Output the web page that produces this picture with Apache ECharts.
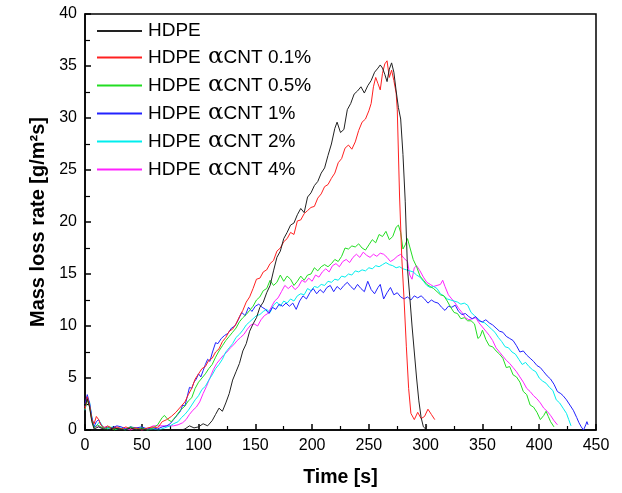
<!DOCTYPE html>
<html>
<head>
<meta charset="utf-8">
<script src="https://cdn.jsdelivr.net/npm/echarts@6/dist/echarts.min.js"></script>
<style>
html,body{margin:0;padding:0;background:#fff;}
#chart{width:622px;height:493px;}
</style>
</head>
<body>
<div id="chart"></div>
<script>
// Series names (legend)
const seriesNames = ['HDPE', 'HDPE \u03b1CNT 0.1%', 'HDPE \u03b1CNT 0.5%', 'HDPE \u03b1CNT 1%', 'HDPE \u03b1CNT 2%', 'HDPE \u03b1CNT 4%'];

// [time s, mass loss rate g/m2s]
const hdpe = [[0,2.3],[2,3.0],[4,2.2],[6,0.8],[8,0.1],[12,0.3],[16,0.1],[20,0.0],[25,0.2],[30,0.1],[35,0.0],[40,0.2],[45,0.0],[50,0.1],[55,0.0],[60,0.0],[65,0.0],[70,0.0],[75,0.0],[80,0.0],[85,0.0],[88,0.1],[92,0.4],[96,0.2],[100,0.3],[104,0.6],[108,0.4],[112,0.9],[115,1.5],[118,2.1],[121,1.8],[124,2.6],[127,3.5],[130,4.8],[133,5.6],[136,6.4],[139,7.6],[142,8.3],[145,9.5],[148,10.2],[151,10.8],[154,11.8],[157,12.3],[160,13.2],[163,13.9],[166,15.3],[169,16.6],[172,17.2],[175,18.4],[178,19.0],[181,19.7],[184,19.9],[187,20.7],[190,21.3],[193,20.9],[196,22.4],[199,22.8],[202,23.5],[205,23.9],[208,24.7],[211,25.2],[214,26.4],[217,27.5],[220,29.0],[222,29.6],[225,28.6],[228,28.9],[231,30.8],[234,31.4],[237,32.3],[240,32.6],[243,33.0],[246,32.4],[249,33.1],[252,33.6],[255,34.4],[258,34.8],[260,35.1],[262,34.8],[264,34.2],[266,33.5],[268,34.7],[270,35.3],[272,34.4],[274,32.6],[276,31.0],[278,29.9],[280,26.5],[282,22.0],[284,15.5],[286,12.8],[288,10.0],[290,7.5],[292,5.0],[294,2.8],[296,1.2],[298,0.3],[300,0.1],[301,0.4]];

const cnt01 = [[0,2.0],[2,3.2],[4,2.4],[6,1.0],[8,0.6],[10,1.3],[12,1.0],[14,0.5],[17,0.2],[20,0.4],[24,0.1],[28,0.3],[32,0.1],[36,0.3],[40,0.1],[45,0.2],[50,0.0],[55,0.2],[60,0.3],[64,0.2],[68,0.8],[72,1.0],[76,1.3],[80,1.7],[84,2.2],[88,2.7],[91,3.4],[94,4.0],[97,4.9],[100,5.4],[103,5.9],[106,6.1],[109,6.7],[112,6.9],[115,7.5],[118,7.8],[121,8.5],[124,8.9],[127,9.5],[130,9.7],[133,10.2],[136,10.9],[139,11.5],[142,12.3],[145,12.8],[148,13.6],[151,14.5],[154,14.6],[157,15.2],[160,15.4],[163,16.0],[166,16.3],[169,17.2],[172,17.5],[175,18.1],[178,18.4],[181,19.0],[184,18.8],[187,20.1],[190,20.2],[193,20.8],[196,21.1],[199,21.4],[202,21.5],[205,22.3],[208,22.7],[211,23.4],[214,23.6],[217,24.2],[220,24.7],[223,25.7],[226,26.1],[229,27.1],[232,27.4],[235,27.0],[238,27.7],[241,28.8],[244,29.6],[247,29.9],[250,30.7],[252,31.4],[254,33.0],[256,33.9],[258,33.3],[260,32.7],[262,34.3],[264,35.2],[266,35.5],[268,33.9],[270,34.6],[272,33.6],[274,32.4],[275,30.8],[277,22.5],[279,16.5],[281,12.5],[283,8.0],[285,4.0],[287,1.6],[290,1.0],[293,1.7],[296,1.1],[299,1.3],[302,2.0],[305,1.5],[308,1.0]];

const cnt05 = [[0,2.0],[2,2.9],[4,2.3],[6,0.9],[8,0.2],[11,0.5],[14,0.3],[18,0.1],[22,0.3],[26,0.0],[30,0.2],[35,0.0],[40,0.3],[45,0.1],[50,0.2],[55,0.0],[60,0.2],[64,0.5],[68,1.2],[70,1.4],[73,1.0],[76,0.8],[80,1.3],[84,1.9],[88,2.3],[91,2.8],[94,3.1],[97,4.0],[100,4.6],[103,5.0],[106,5.4],[109,5.9],[112,6.3],[115,7.0],[118,7.6],[121,8.1],[124,8.6],[127,9.0],[130,9.4],[133,9.8],[136,10.4],[139,10.8],[142,11.1],[145,11.5],[148,11.9],[151,12.5],[154,12.8],[157,13.4],[160,13.6],[163,14.4],[166,13.9],[169,14.2],[172,14.9],[175,14.3],[178,14.8],[181,14.5],[184,13.9],[187,14.3],[190,14.8],[193,14.4],[196,14.9],[199,15.0],[202,15.6],[205,15.3],[208,15.7],[211,15.9],[214,15.7],[217,16.0],[220,16.4],[223,16.2],[226,16.7],[229,17.5],[232,17.4],[235,17.7],[238,17.6],[241,17.9],[244,17.5],[247,17.3],[250,17.8],[253,18.3],[256,18.0],[259,18.8],[262,18.6],[265,19.1],[268,18.3],[271,18.6],[274,19.5],[276,19.7],[278,19.0],[280,17.4],[282,17.8],[284,18.4],[286,17.6],[289,16.4],[292,15.7],[295,14.8],[298,14.4],[301,14.0],[304,13.8],[307,13.6],[310,13.3],[313,13.0],[316,12.9],[319,12.4],[322,11.8],[325,11.3],[328,11.2],[331,10.7],[334,10.8],[337,10.5],[340,10.5],[343,10.2],[346,8.8],[348,9.0],[350,9.6],[353,8.7],[356,8.1],[359,8.0],[362,7.6],[365,7.3],[368,6.9],[371,6.0],[374,6.1],[377,5.3],[380,5.1],[383,4.6],[386,3.7],[389,3.4],[392,2.4],[395,2.2],[398,1.7],[401,1.0],[404,1.4],[406,1.8],[408,1.3],[410,0.8],[413,0.3]];

const cnt1 = [[0,2.5],[2,3.4],[4,2.6],[6,1.2],[8,0.3],[10,0.8],[12,1.0],[14,0.5],[17,0.1],[20,0.3],[24,0.2],[28,0.4],[32,0.3],[36,0.1],[40,0.3],[45,0.2],[50,0.3],[55,0.1],[60,0.2],[64,0.1],[68,0.3],[72,0.4],[75,0.6],[78,1.0],[81,1.4],[84,1.8],[86,2.4],[88,2.3],[90,3.2],[92,4.1],[94,4.0],[96,4.6],[98,4.9],[100,5.4],[102,5.1],[104,5.7],[106,6.3],[108,6.8],[110,6.6],[112,7.4],[115,8.4],[117,8.3],[120,8.8],[123,9.1],[126,9.3],[129,9.8],[132,10.0],[135,10.6],[138,11.3],[141,11.0],[144,11.8],[147,11.4],[150,11.9],[153,12.1],[156,11.8],[159,11.6],[162,11.2],[165,11.8],[168,11.6],[171,12.1],[174,11.9],[177,12.2],[180,11.9],[183,12.2],[186,11.6],[189,12.4],[192,12.9],[195,12.6],[198,13.2],[201,13.6],[204,13.1],[207,13.5],[210,13.2],[213,13.7],[216,13.9],[219,13.3],[222,13.8],[225,13.5],[228,13.9],[231,14.2],[234,13.8],[237,13.5],[240,14.0],[243,13.6],[246,13.3],[249,14.3],[252,13.5],[255,13.1],[258,13.7],[260,14.0],[263,12.6],[266,13.2],[269,13.7],[272,13.0],[275,13.2],[278,12.8],[281,12.6],[284,12.8],[287,12.5],[290,12.9],[293,12.7],[296,12.9],[299,12.6],[302,12.2],[305,12.5],[308,12.3],[311,12.2],[314,11.8],[317,11.5],[320,11.9],[323,11.8],[326,12.0],[329,11.4],[332,11.1],[335,11.2],[338,10.9],[341,10.7],[344,10.9],[347,10.5],[350,10.4],[353,10.6],[356,10.3],[359,10.1],[362,9.8],[365,9.5],[368,9.4],[371,9.0],[374,8.8],[377,8.6],[380,8.1],[383,7.5],[386,7.6],[389,7.2],[392,6.9],[395,6.6],[398,6.2],[401,6.0],[404,5.6],[407,5.2],[410,4.9],[413,4.4],[416,3.7],[419,3.5],[421,3.3],[424,2.9],[427,2.4],[430,1.9],[433,1.2],[435,0.7],[437,0.3],[439,0.0],[441,0.5],[442,0.8],[443,0.5]];

const cnt2 = [[0,1.9],[2,3.0],[4,2.7],[6,1.3],[8,0.3],[10,0.4],[13,0.8],[16,0.3],[20,0.1],[24,0.3],[28,0.1],[32,0.2],[36,0.0],[40,0.3],[45,0.1],[50,0.2],[55,0.0],[60,0.1],[65,0.0],[70,0.2],[75,0.4],[78,0.6],[82,0.8],[85,1.2],[88,1.5],[91,1.9],[94,2.4],[97,2.9],[100,3.3],[103,3.9],[106,4.2],[109,4.8],[112,5.3],[115,5.9],[118,6.3],[121,6.8],[124,7.5],[127,7.9],[130,8.3],[133,8.9],[136,9.2],[139,9.6],[142,10.1],[145,10.4],[148,10.7],[151,11.0],[154,11.1],[157,11.4],[160,11.6],[163,11.3],[166,12.0],[169,12.3],[172,11.9],[175,12.4],[178,12.2],[181,12.6],[184,12.4],[187,12.9],[190,13.1],[193,13.0],[196,13.6],[199,13.4],[202,13.8],[205,13.7],[208,14.0],[211,13.9],[214,14.3],[217,14.2],[220,14.5],[223,14.4],[226,14.8],[229,14.7],[232,15.0],[235,14.9],[238,15.3],[241,15.2],[244,15.4],[247,15.3],[250,15.6],[253,15.5],[256,15.8],[259,15.7],[262,15.9],[265,16.1],[268,15.9],[271,15.8],[274,15.6],[277,15.7],[280,15.5],[283,15.4],[286,15.3],[289,15.2],[292,14.9],[295,14.7],[298,14.3],[301,13.9],[304,13.7],[307,13.8],[310,13.6],[313,13.1],[316,12.9],[319,12.6],[322,12.5],[325,12.4],[328,12.3],[331,12.1],[334,12.2],[337,12.0],[340,11.3],[343,11.0],[346,10.7],[349,10.4],[352,10.3],[355,10.0],[358,9.7],[361,9.4],[364,8.9],[367,8.5],[370,8.0],[373,7.9],[376,7.5],[379,7.3],[382,6.8],[385,6.3],[388,6.5],[391,6.1],[394,5.8],[397,5.6],[400,5.0],[403,4.7],[406,4.5],[409,4.1],[412,3.8],[415,2.9],[418,2.6],[421,2.1],[424,1.6],[426,1.0],[428,0.4]];

const cnt4 = [[0,2.2],[2,3.1],[4,2.5],[6,1.1],[8,0.2],[11,0.4],[14,0.2],[18,0.3],[22,0.1],[26,0.3],[30,0.1],[35,0.2],[40,0.0],[45,0.2],[50,0.0],[55,0.1],[60,0.4],[65,0.4],[70,0.4],[75,0.4],[78,0.4],[82,0.5],[86,0.7],[89,1.0],[92,1.5],[95,1.9],[98,2.2],[101,2.7],[104,3.5],[107,4.2],[110,5.0],[113,5.8],[116,6.4],[119,6.8],[122,7.2],[125,7.5],[128,7.9],[131,8.2],[134,8.6],[137,8.9],[140,9.2],[143,9.7],[146,10.1],[149,10.2],[152,10.0],[155,10.6],[158,11.0],[161,11.2],[164,11.8],[167,12.4],[170,12.7],[173,13.3],[176,13.9],[179,13.6],[182,13.9],[185,13.5],[188,13.8],[191,14.4],[194,14.2],[197,14.6],[200,14.3],[203,14.9],[206,14.7],[209,15.2],[212,15.5],[215,15.2],[218,15.8],[221,16.0],[224,15.7],[227,16.2],[230,16.4],[233,16.1],[236,16.6],[239,16.9],[242,16.6],[245,17.1],[248,16.8],[251,16.6],[254,16.9],[257,16.7],[260,17.0],[263,16.9],[266,16.6],[269,16.2],[272,16.4],[275,16.7],[278,16.9],[281,16.5],[284,16.2],[286,14.9],[288,14.5],[290,15.6],[292,15.8],[295,15.3],[298,14.7],[301,14.2],[304,14.0],[307,13.8],[310,13.9],[313,14.0],[315,14.4],[317,13.8],[320,13.0],[323,12.6],[326,12.2],[329,11.7],[332,11.3],[335,10.8],[338,10.6],[341,10.7],[344,10.8],[347,10.3],[350,9.9],[353,9.5],[356,9.1],[359,8.6],[362,7.9],[365,7.5],[368,7.1],[371,6.7],[374,6.4],[377,6.0],[380,5.6],[383,5.1],[386,4.6],[389,4.0],[392,3.7],[395,3.3],[398,3.0],[401,2.6],[404,2.1],[407,1.8],[410,1.4],[413,0.9],[416,0.5]];

const seriesData = [hdpe, cnt01, cnt05, cnt1, cnt2, cnt4];
const seriesColors = ['#222222', '#ff2020', '#22dd22', '#2222ff', '#00eeee', '#ff22ff'];

const FONT = "'Liberation Sans', Arial, sans-serif";
const chart = echarts.init(document.getElementById('chart'), null, {renderer: 'canvas'});

chart.setOption({
  backgroundColor: '#ffffff',
  animation: false,
  grid: {left: 85, right: 26, top: 14, bottom: 61, show: true, borderColor: '#000', borderWidth: 1.5, backgroundColor: 'transparent'},
  legend: {
    orient: 'vertical',
    left: 97,
    top: 21,
    padding: 0,
    itemWidth: 45,
    itemHeight: 2,
    itemGap: 5,
    icon: 'rect',
    data: seriesNames,
    formatter: function (name) { return name.replace('\u03b1', '{a|\u03b1}'); },
    textStyle: {
      fontFamily: FONT, fontSize: 19, color: '#000', lineHeight: 20, padding: [0, 0, 0, 1],
      rich: {a: {fontFamily: "'DejaVu Serif', 'DejaVu Sans', serif", fontSize: 23, color: '#000', lineHeight: 20, padding: [0, 0, 0, 2]}}
    },
    selectedMode: false
  },
  xAxis: {
    type: 'value', min: 0, max: 450, interval: 50,
    name: 'Time [s]', nameLocation: 'middle', nameGap: 38,
    nameTextStyle: {fontFamily: FONT, fontSize: 19.5, fontWeight: 'bold', color: '#000'},
    axisLine: {show: true, lineStyle: {color: '#000', width: 1.5}},
    axisTick: {show: true, inside: true, length: 6, lineStyle: {color: '#000', width: 1.5}},
    minorTick: {show: true, splitNumber: 2, length: 4, lineStyle: {color: '#000', width: 1.2}},
    axisLabel: {fontFamily: FONT, fontSize: 16, color: '#000', margin: 8},
    splitLine: {show: false}
  },
  yAxis: {
    type: 'value', min: 0, max: 40, interval: 5,
    name: 'Mass loss rate [g/m\u00b2s]', nameLocation: 'middle', nameGap: 37,
    nameTextStyle: {fontFamily: FONT, fontSize: 20, fontWeight: 'bold', color: '#000'},
    axisLine: {show: true, lineStyle: {color: '#000', width: 1.5}},
    axisTick: {show: true, inside: true, length: 6, lineStyle: {color: '#000', width: 1.5}},
    minorTick: {show: true, splitNumber: 2, length: 5, lineStyle: {color: '#000', width: 1.2}},
    axisLabel: {fontFamily: FONT, fontSize: 16, color: '#000', margin: 8},
    splitLine: {show: false}
  },
  series: seriesNames.map((name, i) => ({
    name: name,
    type: 'line',
    data: seriesData[i],
    symbol: 'none',
    showSymbol: false,
    smooth: false,
    z: 10 - i,
    lineStyle: {color: seriesColors[i], width: 1},
    itemStyle: {color: seriesColors[i]}
  }))
});
</script>
</body>
</html>
